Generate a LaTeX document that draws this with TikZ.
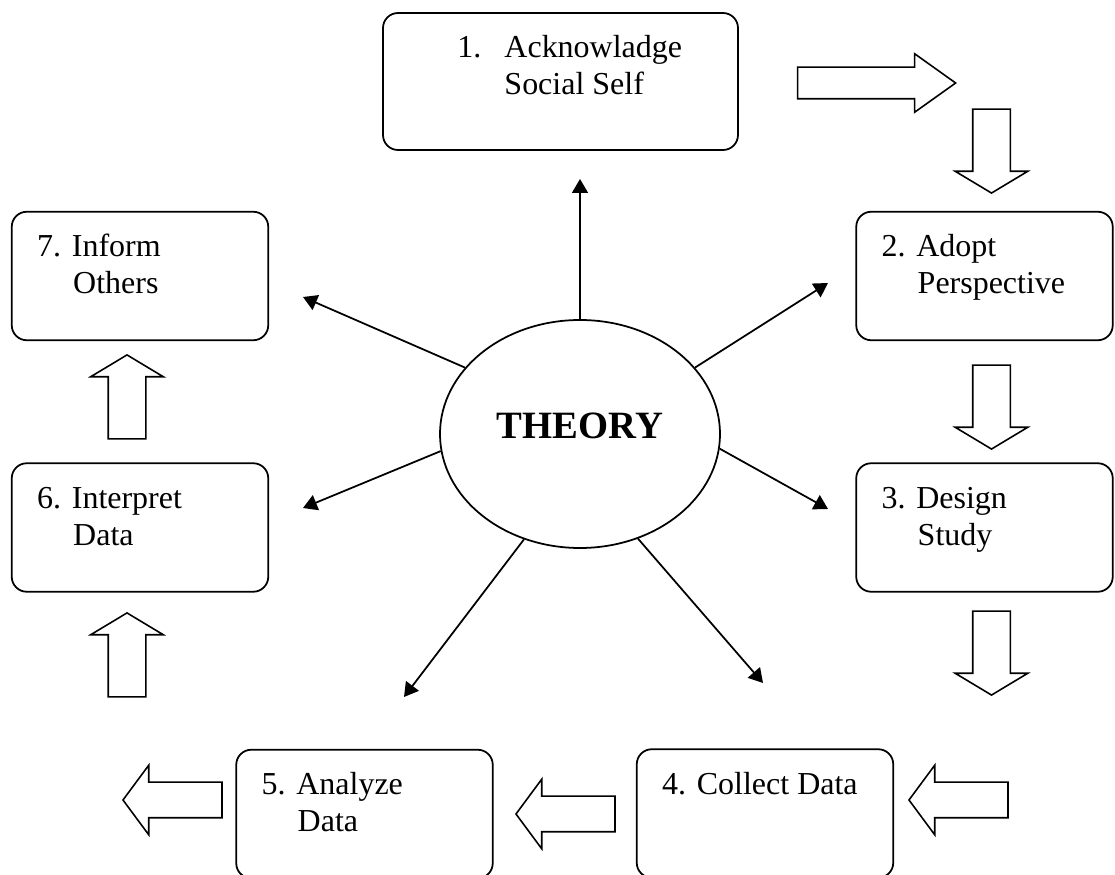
\documentclass[tikz,border=0pt]{standalone}
\usepackage{fontspec}
\setmainfont{Liberation Serif}
\usetikzlibrary{positioning,calc,arrows.meta,shapes.geometric,shapes.arrows}
\tikzset{
  stepbox/.style  = {draw, rounded corners=0.3cm, line width=1pt,
                     minimum width=5.13cm, minimum height=2.57cm, inner sep=0pt},
  steptxt/.style  = {anchor=base west, align=left, inner sep=0pt,
                     font=\fontsize{18.2}{21}\selectfont},
  theory/.style   = {draw, ellipse, line width=1pt, minimum width=5.6cm,
                     minimum height=4.56cm, inner sep=0pt, text depth=0.32cm,
                     font=\fontsize{22}{26}\selectfont\bfseries},
  spoke/.style    = {line width=1pt, -{Triangle[length=0.28cm,width=0.32cm]}},
  flow/.style     = {draw, single arrow, anchor=tip, line width=0.9pt, inner xsep=0pt},
  flowv/.style    = {flow, minimum height=1.68cm, inner ysep=0.36cm,
                     single arrow head extend=0.35cm, single arrow tip angle=118},
  flowh/.style    = {flow, minimum height=1.98cm, inner ysep=0.34cm,
                     single arrow head extend=0.34cm, single arrow tip angle=107},
}
\begin{document}
\begin{tikzpicture}
  \useasboundingbox (0,0) rectangle (22.3,-17.5);
  % the seven steps
  \node[stepbox, minimum width=7.1cm, minimum height=2.74cm] (b1) at (11.21,-1.63) {};
  \node[stepbox] (b2) at (19.69,-5.52) {};
  \node[stepbox] (b3) at (19.69,-10.55) {};
  \node[stepbox] (b4) at (15.30,-16.27) {};
  \node[stepbox] (b5) at (7.29,-16.28) {};
  \node[stepbox] (b6) at (2.80,-10.55) {};
  \node[stepbox] (b7) at (2.80,-5.52) {};
  % two-line labels sit on their last baseline
  \node[steptxt] (l1) at ($(b1.north west)+(1.5,-1.64)$)
    {\makebox[0.94cm][l]{1.}Acknowladge\\\hspace*{0.94cm}Social Self};
  \node[steptxt] (l2) at ($(b2.north west)+(0.52,-1.66)$)
    {2. Adopt\\\hspace*{0.72cm}Perspective};
  \node[steptxt] (l3) at ($(b3.north west)+(0.52,-1.66)$)
    {3. Design\\\hspace*{0.72cm}Study};
  \node[steptxt] (l4) at ($(b4.north west)+(0.52,-0.92)$) {4. Collect Data};
  \node[steptxt] (l5) at ($(b5.north west)+(0.52,-1.66)$)
    {5. Analyze\\\hspace*{0.72cm}Data};
  \node[steptxt] (l6) at ($(b6.north west)+(0.52,-1.66)$)
    {6. Interpret\\\hspace*{0.72cm}Data};
  \node[steptxt] (l7) at ($(b7.north west)+(0.52,-1.66)$)
    {7. Inform\\\hspace*{0.72cm}Others};
  % centre
  \node[theory] (th) at (11.6,-8.68) {THEORY};
  \coordinate (t1) at (11.6,-3.58);
  \coordinate (t2) at (16.56,-5.66);
  \coordinate (t3) at (16.56,-10.18);
  \coordinate (t4) at (15.26,-13.66);
  \coordinate (t5) at (8.08,-13.94);
  \coordinate (t6) at (6.06,-10.16);
  \coordinate (t7) at (6.06,-5.94);
  \draw[spoke] (th.north) -- (t1);
  \draw[spoke] (th.30) -- (t2);
  \draw[spoke] (th.-6) -- (t3);
  \draw[spoke] (th.-61) -- (t4);
  \draw[spoke] (th.242) -- (t5);
  \draw[spoke] (th.187) -- (t6);
  \draw[spoke] (th.150) -- (t7);
  % block arrows round the cycle, placed by their tips
  \node[flow, minimum height=3.16cm, inner ysep=0.3cm,
        single arrow head extend=0.27cm, single arrow tip angle=71] (f1) at (19.14,-1.66) {};
  \node[flowv, rotate=-90] (f2) at (19.83,-3.88) {};
  \node[flowv, rotate=-90] (f3) at (19.83,-9.0) {};
  \node[flowv, rotate=-90] (f4) at (19.83,-13.92) {};
  \node[flowh, rotate=180] (f5) at (18.16,-16.0) {};
  \node[flowh, rotate=180] (f6) at (10.3,-16.28) {};
  \node[flowh, rotate=180] (f7) at (2.44,-16.0) {};
  \node[flowv, rotate=90] (f8) at (2.54,-12.24) {};
  \node[flowv, rotate=90] (f9) at (2.54,-7.08) {};
\end{tikzpicture}
\end{document}
